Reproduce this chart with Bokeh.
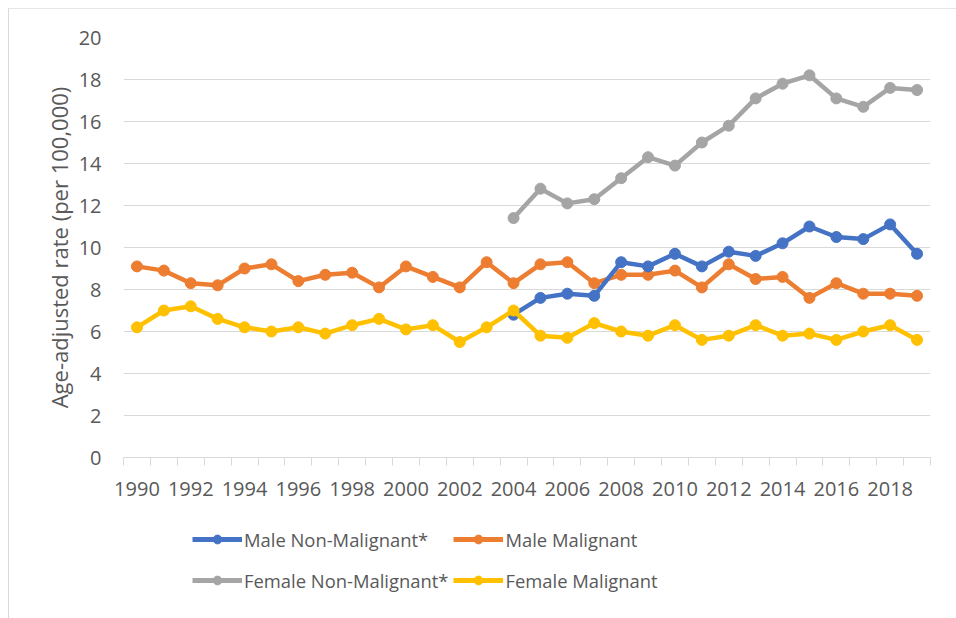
from bokeh.plotting import figure
from bokeh.models import FixedTicker, Legend, LegendItem, Range1d
from bokeh.layouts import column
from bokeh.embed import file_html
from bokeh.resources import INLINE

years = list(range(1990, 2020))
years_nm = list(range(2004, 2020))

male_malignant = [9.1, 8.9, 8.3, 8.2, 9.0, 9.2, 8.4, 8.7, 8.8, 8.1,
                  9.1, 8.6, 8.1, 9.3, 8.3, 9.2, 9.3, 8.3, 8.7, 8.7,
                  8.9, 8.1, 9.2, 8.5, 8.6, 7.6, 8.3, 7.8, 7.8, 7.7]
female_malignant = [6.2, 7.0, 7.2, 6.6, 6.2, 6.0, 6.2, 5.9, 6.3, 6.6,
                    6.1, 6.3, 5.5, 6.2, 7.0, 5.8, 5.7, 6.4, 6.0, 5.8,
                    6.3, 5.6, 5.8, 6.3, 5.8, 5.9, 5.6, 6.0, 6.3, 5.6]
male_nonmalignant = [6.8, 7.6, 7.8, 7.7, 9.3, 9.1, 9.7, 9.1, 9.8, 9.6,
                     10.2, 11.0, 10.5, 10.4, 11.1, 9.7]
female_nonmalignant = [11.4, 12.8, 12.1, 12.3, 13.3, 14.3, 13.9, 15.0, 15.8, 17.1,
                       17.8, 18.2, 17.1, 16.7, 17.6, 17.5]

x_tick_labels = list(range(1990, 2020, 2))
y_ticks = list(range(0, 21, 2))

FONT = "Open Sans"
GREY_TXT = "#595959"

p = figure(width=947, height=499, output_backend="svg", toolbar_location=None,
           x_range=Range1d(1989.5, 2019.5), y_range=Range1d(0, 20),
           min_border_left=114, min_border_right=26, min_border_top=28, min_border_bottom=51)
p.outline_line_color = None
p.xgrid.grid_line_color = None
p.ygrid.grid_line_color = "#d9d9d9"
p.ygrid.grid_line_width = 1

p.yaxis.ticker = FixedTicker(ticks=y_ticks)
p.yaxis.axis_line_color = None
p.yaxis.major_tick_line_color = None
p.yaxis.major_tick_out = 0
p.yaxis.major_tick_in = 0
p.yaxis.minor_tick_line_color = None
p.yaxis.minor_tick_out = 0
p.yaxis.major_label_text_font = FONT
p.yaxis.major_label_text_font_size = "20px"
p.yaxis.major_label_text_color = GREY_TXT
p.yaxis.axis_label = "Age-adjusted rate (per 100,000)"
p.yaxis.axis_label_text_font = FONT
p.yaxis.axis_label_text_font_size = "22px"
p.yaxis.axis_label_text_font_style = "normal"
p.yaxis.axis_label_text_color = GREY_TXT
p.yaxis.axis_label_standoff = 2
p.yaxis.major_label_standoff = 22

p.xaxis.ticker = FixedTicker(ticks=x_tick_labels,
                             minor_ticks=[y - 0.5 for y in years] + [2019.5])
p.xaxis.axis_line_color = "#d9d9d9"
p.xaxis.major_tick_line_color = None
p.xaxis.major_tick_out = 0
p.xaxis.major_tick_in = 0
p.xaxis.minor_tick_line_color = "#d9d9d9"
p.xaxis.minor_tick_out = 8
p.xaxis.minor_tick_in = 0
p.xaxis.major_label_text_font = FONT
p.xaxis.major_label_text_font_size = "20px"
p.xaxis.major_label_text_color = GREY_TXT
p.xaxis.major_label_standoff = 16

series = [
    ("Male Non-Malignant*", years_nm, male_nonmalignant, "#4472C4"),
    ("Male Malignant", years, male_malignant, "#ED7D31"),
    ("Female Non-Malignant*", years_nm, female_nonmalignant, "#A5A5A5"),
    ("Female Malignant", years, female_malignant, "#FFC000"),
]

draw_order = [2, 1, 0, 3]
for i in draw_order:
    name, xs, ys, col = series[i]
    p.line(xs, ys, line_color=col, line_width=4.5)
    p.scatter(xs, ys, size=11, fill_color=col, line_color=col)

# Legend panel beneath the chart: same series, drawn outside its visible range
lf = figure(width=947, height=110, output_backend="svg", toolbar_location=None,
            x_range=Range1d(1989.5, 2019.5), y_range=Range1d(1000, 1001),
            x_axis_location=None, y_axis_location=None,
            min_border_left=0, min_border_right=0, min_border_top=0, min_border_bottom=0)
lf.outline_line_color = None
lf.xgrid.grid_line_color = None
lf.ygrid.grid_line_color = None

leg_renderers = {}
for name, xs, ys, col in series:
    l = lf.line(xs, ys, line_color=col, line_width=5)
    c = lf.scatter(xs, ys, size=9, fill_color=col, line_color=col)
    leg_renderers[name] = [l, c]

legend_order = [0, 2, 1, 3]
items = [LegendItem(label=series[i][0], renderers=leg_renderers[series[i][0]]) for i in legend_order]
legend = Legend(items=items, ncols=2, orientation="vertical",
                location=(69, 20),
                label_text_font=FONT, label_text_font_size="18.4px",
                label_text_color=GREY_TXT, glyph_width=50, glyph_height=22,
                label_standoff=2, spacing=5, label_height=36,
                border_line_color=None, background_fill_alpha=0,
                padding=4, margin=0)
lf.add_layout(legend, "center")

layout = column(p, lf, spacing=0)
layout.margin = (8, 0, 0, 8)
layout.styles = {"border-left": "1px solid #d9d9d9", "border-top": "1px solid #e6e6e6"}

open("out.html", "w").write(file_html(layout, INLINE))
